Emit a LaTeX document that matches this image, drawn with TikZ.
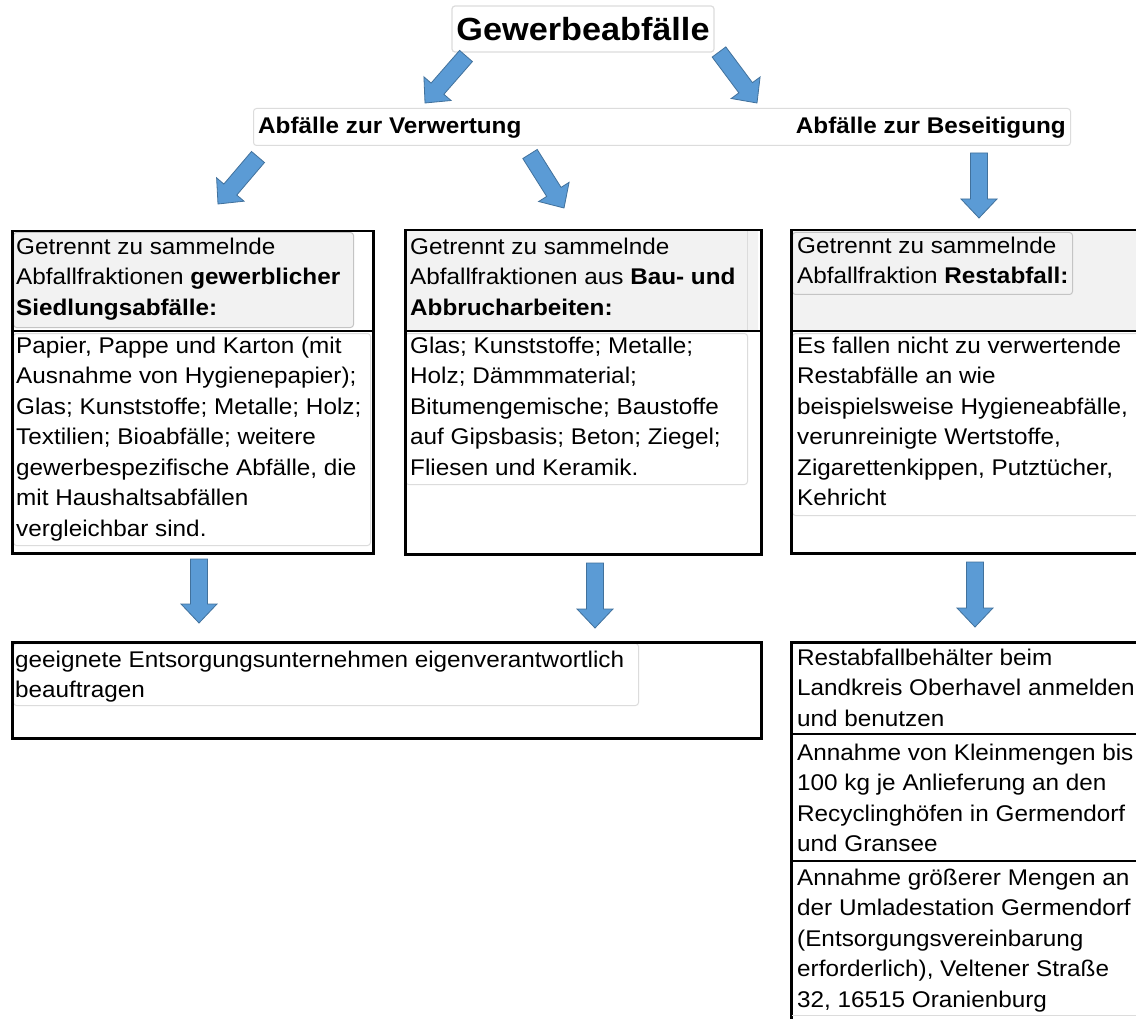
\documentclass[tikz,border=0pt]{standalone}
\usepackage{fontspec}
\setmainfont[FakeStretch=1.07]{Liberation Sans}
\usetikzlibrary{calc}
\definecolor{arrowfill}{HTML}{5B9BD5}
\definecolor{arrowline}{HTML}{41719C}
\definecolor{hdrgray}{HTML}{F2F2F2}
\definecolor{edgegray}{HTML}{C4C4C4}
\definecolor{faintgray}{HTML}{DCDCDC}
\newcommand\bodyfont{\fontsize{22.7}{30.5}\selectfont}
\newcommand\blockarrow[2]{%
  \coordinate (arrhead) at ($(#2)!19pt!(#1)$);
  \filldraw[blockarr] ($(#1)!8.5pt!90:(#2)$) -- ($(arrhead)!8.5pt!-90:(#1)$)
    -- ($(arrhead)!18pt!-90:(#1)$) -- (#2) -- ($(arrhead)!18pt!90:(#1)$)
    -- ($(arrhead)!8.5pt!90:(#1)$) -- ($(#1)!8.5pt!-90:(#2)$) -- cycle;
}
\begin{document}
\begin{tikzpicture}[x=1pt,y=-1pt,
  blackbox/.style={draw=black, line width=2.5pt, anchor=north west, inner sep=0pt},
  grayhead/.style={fill=hdrgray, draw=edgegray, line width=1pt, rounded corners=3pt, anchor=north west, inner sep=0pt},
  softbox/.style={draw=faintgray, line width=1pt, rounded corners=3pt, anchor=north west, inner sep=0pt},
  headfill/.style={fill=hdrgray, anchor=north west, inner sep=0pt},
  txt/.style={anchor=north west, inner sep=0pt, align=left, font=\bodyfont},
  boldlabel/.style={inner sep=0pt, font=\bodyfont\bfseries},
  blockarr/.style={fill=arrowfill, draw=arrowline, line width=0.8pt, line join=miter},
  divider/.style={draw=black, line width=2pt}]
\useasboundingbox (0,0) rectangle (1136,1019);
\clip (0,0) rectangle (1136,1019);
\fill[white] (0,0) rectangle (1136,1019);

% title
\node[draw=faintgray, line width=1.2pt, rounded corners=3pt, fill=white, minimum width=262, minimum height=46, inner sep=0pt, font=\fontsize{32}{38}\selectfont\bfseries] (title) at (583,29) {Gewerbeabfälle};

% split box
\node[softbox, minimum width=817, minimum height=37] (split) at (253,108) {};
\node[boldlabel, anchor=base west] (verw) at (258,134) {Abfälle zur Verwertung};
\node[boldlabel, anchor=base east] (beseit) at (1066,134) {Abfälle zur Beseitigung};

% left column
\node[grayhead, minimum width=340, minimum height=95] (Lhead) at (13,232) {};
\node[softbox, minimum width=357, minimum height=212] (Lbody) at (13,333) {};
\node[blackbox, minimum width=361, minimum height=322] (L) at (11,230) {};
\draw[divider] (11,331) -- (372,331);

% middle column
\node[headfill, minimum width=353, minimum height=100] (Mhead) at (405,231) {};
\draw[faintgray] (747,231) -- (747,330);
\node[softbox, minimum width=342, minimum height=151] (Mbody) at (405,333) {};
\node[blackbox, minimum width=356, minimum height=324] (M) at (404,229) {};
\draw[divider] (404,331) -- (760,331);

% right column
\node[headfill, minimum width=360, minimum height=100] (Rheadbg) at (792,231) {};
\node[grayhead, minimum width=280, minimum height=62] (Rhead) at (792,232) {};
\node[softbox, minimum width=360, minimum height=182] (Rbody) at (792,333) {};
\node[blackbox, minimum width=370, minimum height=323] (R) at (790,229) {};
\draw[divider] (790,331) -- (1160,331);

% bottom left
\node[softbox, minimum width=625, minimum height=62] (BLin) at (13,643) {};
\node[blackbox, minimum width=749, minimum height=96] (BL) at (11,641) {};

% bottom right
\node[blackbox, minimum width=370, minimum height=420] (BR) at (790,641) {};
\draw[divider] (790,734) -- (1160,734);
\draw[divider] (790,861) -- (1160,861);
\draw[faintgray, line width=1pt] (792,1015) -- (1160,1015);

% texts
\node[txt] (Lheadtxt) at (16,232.65) {\strut Getrennt zu sammelnde\\Abfallfraktionen \textbf{gewerblicher}\\\textbf{Siedlungsabfälle:}};
\node[txt] (Lbodytxt) at (16,331.65) {\strut Papier, Pappe und Karton (mit\\Ausnahme von Hygienepapier);\\Glas; Kunststoffe; Metalle; Holz;\\Textilien; Bioabfälle; weitere\\gewerbespezifische Abfälle, die\\mit Haushaltsabfällen\\vergleichbar sind.};
\node[txt] (Mheadtxt) at (410,232.65) {\strut Getrennt zu sammelnde\\Abfallfraktionen aus \textbf{Bau- und}\\\textbf{Abbrucharbeiten:}};
\node[txt] (Mbodytxt) at (410,331.65) {\strut Glas; Kunststoffe; Metalle;\\Holz; Dämmmaterial;\\Bitumengemische; Baustoffe\\auf Gipsbasis; Beton; Ziegel;\\Fliesen und Keramik.};
\node[txt] (Rheadtxt) at (797,231.65) {\strut Getrennt zu sammelnde\\Abfallfraktion \textbf{Restabfall:}};
\node[txt] (Rbodytxt) at (797,331.65) {\strut Es fallen nicht zu verwertende\\Restabfälle an wie\\beispielsweise Hygieneabfälle,\\verunreinigte Wertstoffe,\\Zigarettenkippen, Putztücher,\\Kehricht};
\node[txt] (BLtxt) at (15,645.65) {\strut geeignete Entsorgungsunternehmen eigenverantwortlich\\beauftragen};
\node[txt] (BR1txt) at (797,643.65) {\strut Restabfallbehälter beim\\Landkreis Oberhavel anmelden\\und benutzen};
\node[txt] (BR2txt) at (797,738.65) {\strut Annahme von Kleinmengen bis\\100 kg je Anlieferung an den\\Recyclinghöfen in Germendorf\\und Gransee};
\node[txt] (BR3txt) at (797,863.65) {\strut Annahme größerer Mengen an\\der Umladestation Germendorf\\(Entsorgungsvereinbarung\\erforderlich), Veltener Straße\\32, 16515 Oranienburg};

% arrows
\coordinate (a1s) at (466,56);  \coordinate (a1e) at (425,103);
\coordinate (a2s) at (719,52);  \coordinate (a2e) at (757,103);
\coordinate (a3s) at (258,157); \coordinate (a3e) at (218,204);
\coordinate (a4s) at (530,154); \coordinate (a4e) at (564,208);
\coordinate (a5s) at (979,153); \coordinate (a5e) at (979,218);
\coordinate (a6s) at (199,559); \coordinate (a6e) at (199,623);
\coordinate (a7s) at (595,563); \coordinate (a7e) at (595,628);
\coordinate (a8s) at (975,562); \coordinate (a8e) at (975,627);
\blockarrow{a1s}{a1e}
\blockarrow{a2s}{a2e}
\blockarrow{a3s}{a3e}
\blockarrow{a4s}{a4e}
\blockarrow{a5s}{a5e}
\blockarrow{a6s}{a6e}
\blockarrow{a7s}{a7e}
\blockarrow{a8s}{a8e}
\end{tikzpicture}
\end{document}
